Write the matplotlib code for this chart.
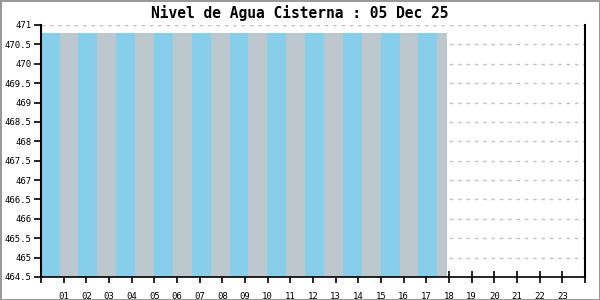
import numpy as np
import matplotlib
matplotlib.use("Agg")
import matplotlib.pyplot as plt

# Datos: nivel de la cisterna cada 5 minutos (constante en la imagen)
titulo = "Nivel de Agua Cisterna : 05 Dec 25"
n_muestras = 215
horas = np.arange(n_muestras) * 5 / 60.0
nivel = [470.8] * n_muestras
y_ticks = [464.5, 465, 465.5, 466, 466.5, 467, 467.5, 468, 468.5, 469, 469.5, 470, 470.5, 471]
x_labels = ["%02d" % h for h in range(1, 24)]

# colores alternados en bloques
colores = ["#87CEEB" if (i // 10) % 2 == 0 else "#BCC8CE" for i in range(n_muestras)]

fig = plt.figure(figsize=(6, 3), dpi=100)
fig.patch.set_edgecolor("#999999")
fig.patch.set_linewidth(2)
ax = fig.add_axes([41 / 600, 1 - 277 / 300, 544 / 600, 252 / 300])

# barras finas
ax.vlines(horas + 0.03, 464.5, nivel, colors=colores, linewidth=1.1,
          antialiased=False, zorder=3)

ax.set_xlim(0, 24)
ax.set_ylim(464.5, 471)
ax.set_yticks(y_ticks)
ax.set_yticklabels(["%g" % v for v in y_ticks])
ax.set_xticks(range(0, 25))
ax.set_xticklabels([""] + x_labels + [""])

ax.grid(axis="y", color="#c0c0c0", linestyle=(0, (2.5, 3.5)), linewidth=1, zorder=1)
ax.set_axisbelow(True)

ax.spines["top"].set_visible(False)
ax.spines["left"].set_linewidth(1.5)
ax.spines["right"].set_linewidth(1.5)
ax.spines["bottom"].set_linestyle((0, (1, 1)))
ax.spines["bottom"].set_linewidth(1.2)
for s in ax.spines.values():
    s.set_zorder(5)

fuente = "DejaVu Sans Mono"
ax.tick_params(axis="y", direction="out", length=5, width=1.2, labelsize=6.5, pad=2)
ax.tick_params(axis="x", direction="inout", length=9, width=1.2, labelsize=6.5, pad=6)
for t in ax.get_xticklabels() + ax.get_yticklabels():
    t.set_family(fuente)

fig.text(0.5, 1 - 13 / 300, titulo, ha="center", va="center",
         family=fuente, fontsize=10.5, fontweight="bold")

fig.savefig("out.png", dpi=100, edgecolor=fig.get_edgecolor())
